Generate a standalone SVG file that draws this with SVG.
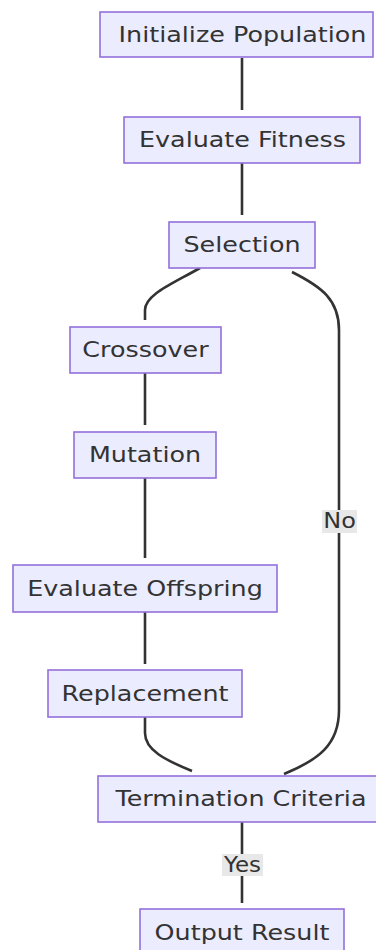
<svg xmlns="http://www.w3.org/2000/svg" width="376" height="950" viewBox="0 0 376 950">
  <style>
    .node rect { fill: #ECECFF; stroke: #9370DB; stroke-width: 1.6; }
    .node text, .label text { font-family: "DejaVu Sans", Verdana, sans-serif; font-size: 20.5px; fill: #333333; text-anchor: middle; }
    .edges path { fill: none; stroke: #333333; stroke-width: 2.6; stroke-linecap: butt; }
    .label rect { fill: #E8E8E8; }
  </style>

  <!-- connectors -->
  <g id="edges" class="edges">
    <path d="M242,58 L242,110"/>
    <path d="M242,163 L242,215"/>
    <path d="M200,268 C170,285 145,295 145,310 L145,320"/>
    <path d="M292,272 C322,287 339,300 339,330 L339,710 C339,745 318,760 284,774"/>
    <path d="M145,373 L145,425"/>
    <path d="M145,478 L145,558"/>
    <path d="M145,612 L145,664"/>
    <path d="M145,717 L145,733 C145,750 165,760 192,771"/>
    <path d="M242,822 L242,903"/>
  </g>

  <!-- edge labels -->
  <g id="label-no" class="label">
    <rect x="322" y="510" width="35" height="23"/>
    <text transform="translate(339.5,528) scale(1.17,1)">No</text>
  </g>
  <g id="label-yes" class="label">
    <rect x="222" y="854" width="41" height="22"/>
    <text transform="translate(242.5,872) scale(1.12,1)">Yes</text>
  </g>

  <!-- nodes -->
  <g id="init" class="node">
    <rect x="100" y="12" width="273" height="45"/>
    <text transform="translate(242.5,41.5) scale(1.24,1)">Initialize Population</text>
  </g>
  <g id="fitness" class="node">
    <rect x="124" y="117" width="236" height="46"/>
    <text transform="translate(242.5,147) scale(1.24,1)">Evaluate Fitness</text>
  </g>
  <g id="selection" class="node">
    <rect x="169" y="222" width="146" height="46"/>
    <text transform="translate(242,252) scale(1.24,1)">Selection</text>
  </g>
  <g id="crossover" class="node">
    <rect x="70" y="327" width="151" height="46"/>
    <text transform="translate(145.5,357) scale(1.24,1)">Crossover</text>
  </g>
  <g id="mutation" class="node">
    <rect x="74" y="432" width="142" height="46"/>
    <text transform="translate(145,462) scale(1.24,1)">Mutation</text>
  </g>
  <g id="offspring" class="node">
    <rect x="13" y="565" width="264" height="47"/>
    <text transform="translate(145,595.5) scale(1.24,1)">Evaluate Offspring</text>
  </g>
  <g id="replacement" class="node">
    <rect x="48" y="670" width="194" height="47"/>
    <text transform="translate(145,700.5) scale(1.24,1)">Replacement</text>
  </g>
  <g id="termination" class="node">
    <rect x="98" y="776" width="290" height="46"/>
    <text transform="translate(241,806) scale(1.24,1)">Termination Criteria</text>
  </g>
  <g id="output" class="node">
    <rect x="140" y="909" width="204" height="46"/>
    <text transform="translate(242,939.5) scale(1.24,1)">Output Result</text>
  </g>
</svg>
